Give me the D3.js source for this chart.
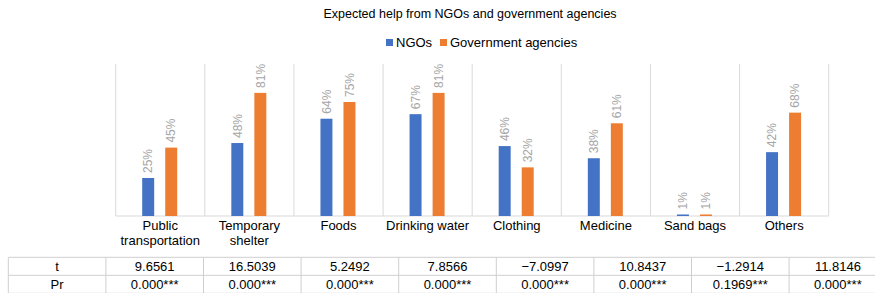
<!doctype html>
<html>
<head>
    <script src="https://d3js.org/d3.v7.min.js"></script>
    <style>
        body { margin: 0; background: #fff; }
        text { font-family: "Liberation Sans", Arial, Helvetica, sans-serif; }
    </style>
</head>
<body>
    <script>
        var width = 875;
        var height = 293;

        // data
        var categories = ["Public transportation", "Temporary shelter", "Foods", "Drinking water",
                          "Clothing", "Medicine", "Sand bags", "Others"];
        var catLines = [["Public", "transportation"], ["Temporary", "shelter"], ["Foods"], ["Drinking water"],
                        ["Clothing"], ["Medicine"], ["Sand bags"], ["Others"]];
        var series = ["NGOs", "Government agencies"];
        var ngos = [0.25, 0.48, 0.64, 0.67, 0.46, 0.38, 0.01, 0.42];
        var gov = [0.45, 0.81, 0.75, 0.81, 0.32, 0.61, 0.01, 0.68];
        var tValues = ["9.6561", "16.5039", "5.2492", "7.8566", "\u22127.0997", "10.8437", "\u22121.2914", "11.8146"];
        var prValues = ["0.000***", "0.000***", "0.000***", "0.000***", "0.000***", "0.000***", "0.1969***", "0.000***"];

        var colors = {"NGOs": "#4472c4", "Government agencies": "#ed7d31"};

        var svg = d3.select("body")
                    .append("svg")
                    .attr("width", width)
                    .attr("height", height);

        var x0 = d3.scaleBand()
                   .domain(categories)
                   .range([115.7, 828.7]);
        var x1 = d3.scaleBand()
                   .domain(series)
                   .range([26.5, 61.5])
                   .paddingInner(0.48);
        var y = d3.scaleLinear()
                  .domain([0, 1])
                  .range([216, 64]);

        // vertical separators between categories
        svg.selectAll("line.grid")
           .data(categories.concat(["end"]))
           .enter()
           .append("line")
           .attr("class", "grid")
           .attr("x1", function(d, i){ return x0.range()[0] + i * x0.step(); })
           .attr("x2", function(d, i){ return x0.range()[0] + i * x0.step(); })
           .attr("y1", y(1))
           .attr("y2", y(0))
           .style("stroke", "#d9d9d9")
           .style("stroke-width", 1);

        // bottom axis line
        svg.append("line")
           .attr("x1", x0.range()[0])
           .attr("x2", x0.range()[1])
           .attr("y1", y(0))
           .attr("y2", y(0))
           .style("stroke", "#d9d9d9")
           .style("stroke-width", 1);

        var rows = categories.map(function(c, i){
            return {cat: c, vals: [{s: "NGOs", v: ngos[i]}, {s: "Government agencies", v: gov[i]}]};
        });

        var groups = svg.selectAll("g.cat")
                        .data(rows)
                        .enter()
                        .append("g")
                        .attr("class", "cat")
                        .attr("transform", function(d){ return "translate(" + x0(d.cat) + ",0)"; });

        groups.selectAll("rect")
              .data(function(d){ return d.vals; })
              .enter()
              .append("rect")
              .attr("x", function(d){ return x1(d.s); })
              .attr("y", function(d){ return y(d.v); })
              .attr("width", x1.bandwidth())
              .attr("height", function(d){ return y(0) - y(d.v); })
              .style("fill", function(d){ return colors[d.s]; });

        // value labels, rotated
        groups.selectAll("text.val")
              .data(function(d){ return d.vals; })
              .enter()
              .append("text")
              .attr("class", "val")
              .attr("transform", function(d){
                  return "translate(" + (x1(d.s) + x1.bandwidth() / 2) + "," + (y(d.v) - 5) + ") rotate(-90)";
              })
              .attr("dy", "0.35em")
              .style("font-size", "12px")
              .style("fill", "#a6a6a6")
              .text(function(d){ return Math.round(d.v * 100) + "%"; });

        // category labels
        var catText = svg.selectAll("text.cat")
                         .data(categories)
                         .enter()
                         .append("text")
                         .attr("class", "cat")
                         .attr("x", function(d){ return x0(d) + x0.bandwidth() / 2; })
                         .attr("y", 229.5)
                         .attr("text-anchor", "middle")
                         .style("font-size", "13px")
                         .style("fill", "#000");
        catText.selectAll("tspan")
               .data(function(d, i){ return catLines[i]; })
               .enter()
               .append("tspan")
               .attr("x", function(){ var p = this.parentNode; return p.getAttribute("x"); })
               .attr("dy", function(d, i){ return i === 0 ? 0 : 15; })
               .text(function(d){ return d; });

        // title
        svg.append("text")
           .attr("x", 470)
           .attr("y", 18)
           .attr("text-anchor", "middle")
           .style("font-size", "12.5px")
           .style("fill", "#000")
           .text("Expected help from NGOs and government agencies");

        // legend
        var legendX = [386, 440];
        var legend = svg.selectAll("g.legend")
                        .data(series)
                        .enter()
                        .append("g")
                        .attr("class", "legend")
                        .attr("transform", function(d, i){ return "translate(" + legendX[i] + ",0)"; });
        legend.append("rect")
              .attr("x", 0)
              .attr("y", 39)
              .attr("width", 7)
              .attr("height", 7)
              .style("fill", function(d){ return colors[d]; });
        legend.append("text")
              .attr("x", 10)
              .attr("y", 46.5)
              .style("font-size", "13px")
              .style("fill", "#000")
              .text(function(d){ return d; });

        // table
        var tableCols = [""].concat(categories);
        var tx = d3.scaleBand()
                   .domain(tableCols)
                   .range([8.3, 8.3 + 9 * 97.6]);
        var tableRows = [["t"].concat(tValues), ["Pr"].concat(prValues)];
        var rowTop = [257.3, 275.3];
        var rowH = 18;

        svg.selectAll("line.hrow")
           .data([257.3, 275.3, 293.3])
           .enter()
           .append("line")
           .attr("x1", tx.range()[0])
           .attr("x2", tx.range()[1])
           .attr("y1", function(d){ return d; })
           .attr("y2", function(d){ return d; })
           .style("stroke", "#cfcfcf");

        svg.selectAll("line.vcol")
           .data(tableCols.concat(["end"]))
           .enter()
           .append("line")
           .attr("x1", function(d, i){ return tx.range()[0] + i * tx.step(); })
           .attr("x2", function(d, i){ return tx.range()[0] + i * tx.step(); })
           .attr("y1", rowTop[0])
           .attr("y2", rowTop[1] + rowH)
           .style("stroke", "#cfcfcf");

        tableRows.forEach(function(r, ri){
            svg.selectAll("text.row" + ri)
               .data(r)
               .enter()
               .append("text")
               .attr("class", "row" + ri)
               .attr("x", function(d, i){ return tx(tableCols[i]) + tx.bandwidth() / 2; })
               .attr("y", rowTop[ri] + 14)
               .attr("text-anchor", "middle")
               .style("font-size", "13px")
               .style("fill", "#000")
               .text(function(d){ return d; });
        });
    </script>
</body>
</html>
